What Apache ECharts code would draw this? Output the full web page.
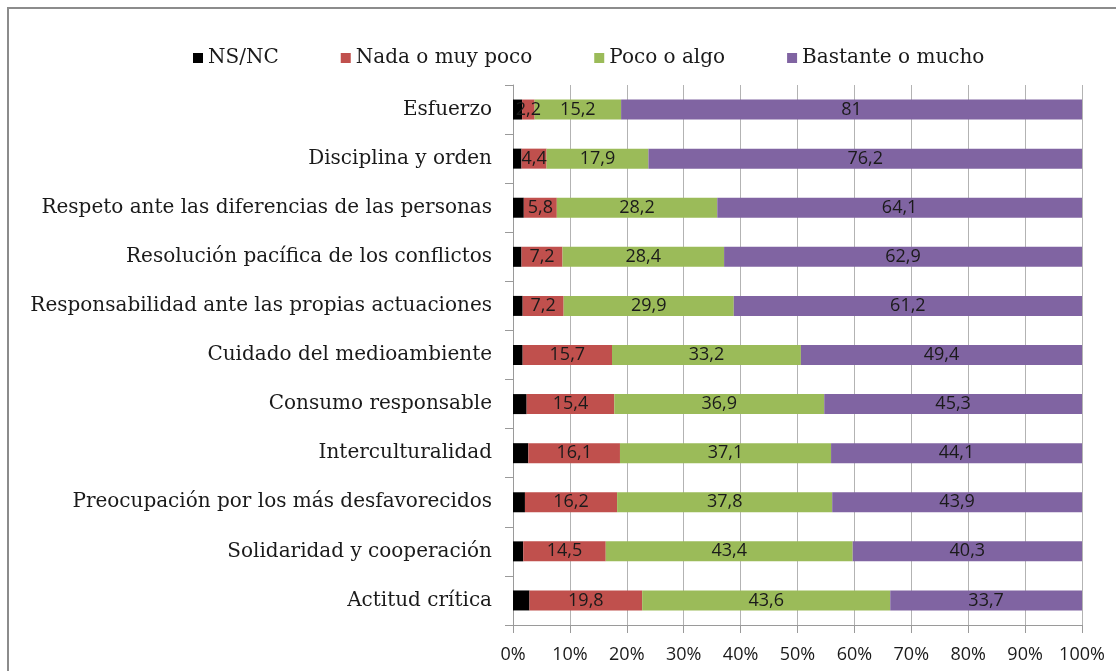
<!DOCTYPE html>
<html>
<head>
<meta charset="utf-8">
<script src="https://cdn.jsdelivr.net/npm/echarts@6/dist/echarts.min.js"></script>
<style>
  html, body { margin: 0; padding: 0; background: #fff; }
  #chart { width: 1116px; height: 671px; }
</style>
</head>
<body>
<div id="chart"></div>
<script>
var categories = [
  'Esfuerzo',
  'Disciplina y orden',
  'Respeto ante las diferencias de las personas',
  'Resolución pacífica de los conflictos',
  'Responsabilidad ante las propias actuaciones',
  'Cuidado del medioambiente',
  'Consumo responsable',
  'Interculturalidad',
  'Preocupación por los más desfavorecidos',
  'Solidaridad y cooperación',
  'Actitud crítica'
]
var nsnc = [1.6, 1.5, 1.9, 1.5, 1.7, 1.7, 2.4, 2.7, 2.1, 1.8, 2.9]
var nada = [2.2, 4.4, 5.8, 7.2, 7.2, 15.7, 15.4, 16.1, 16.2, 14.5, 19.8]
var poco = [15.2, 17.9, 28.2, 28.4, 29.9, 33.2, 36.9, 37.1, 37.8, 43.4, 43.6]
var bastante = [81, 76.2, 64.1, 62.9, 61.2, 49.4, 45.3, 44.1, 43.9, 40.3, 33.7]
var tickLabels = ['0%', '10%', '20%', '30%', '40%', '50%', '60%', '70%', '80%', '90%', '100%']

var serif = 'DejaVu Serif'
var sans = 'Open Sans'

function toPct(arr) {
  // normalise each row to 100 like the 100% stacked bar
  return arr.map(function (v, i) {
    var total = nsnc[i] + nada[i] + poco[i] + bastante[i]
    return { value: v / total * 100, raw: v }
  })
}

function makeSeries(name, arr, color, showLabel) {
  return {
    name: name,
    type: 'bar',
    stack: 'total',
    barWidth: 20,
    itemStyle: { color: color },
    label: {
      show: showLabel,
      position: 'inside',
      color: '#1a1a1a',
      fontFamily: sans,
      fontSize: 18,
      formatter: function (p) {
        return String(p.data.raw).replace('.', ',')
      },
    },
    emphasis: { disabled: true },
    data: toPct(arr),
  }
}

var chart = echarts.init(document.getElementById('chart'))
chart.setOption({
  animation: false,
  graphic: [
    {
      type: 'rect',
      shape: { x: 8, y: 8, width: 1300, height: 900 },
      style: { fill: 'none', stroke: '#8c8c8c', lineWidth: 2 },
      silent: true,
    },
  ],
  legend: {
    left: 188,
    top: 43,
    icon: 'rect',
    itemWidth: 10,
    itemHeight: 10,
    itemGap: 62,
    textStyle: { fontFamily: serif, fontSize: 20, color: '#1a1a1a' },
    data: ['NS/NC', 'Nada o muy poco', 'Poco o algo', 'Bastante o mucho'],
  },
  grid: {
    left: 513,
    right: 34,
    top: 85,
    bottom: 46,
  },
  xAxis: {
    type: 'value',
    min: 0,
    max: 100,
    interval: 10,
    axisLine: { show: true, lineStyle: { color: '#9a9a9a' } },
    axisTick: { show: true, length: 8, lineStyle: { color: '#9a9a9a' } },
    splitLine: { show: true, lineStyle: { color: '#b3b3b3' } },
    axisLabel: {
      margin: 21,
      color: '#1a1a1a',
      fontFamily: sans,
      fontSize: 18,
      formatter: function (v) {
        return tickLabels[Math.round(v / 10)]
      },
    },
  },
  yAxis: {
    type: 'category',
    inverse: true,
    data: categories,
    axisLine: { show: true, lineStyle: { color: '#9a9a9a' } },
    axisTick: { show: true, length: 8, lineStyle: { color: '#9a9a9a' } },
    axisLabel: {
      margin: 21,
      color: '#1a1a1a',
      fontFamily: serif,
      fontSize: 20,
    },
  },
  series: [
    makeSeries('NS/NC', nsnc, '#000000', false),
    makeSeries('Nada o muy poco', nada, '#c0504d', true),
    makeSeries('Poco o algo', poco, '#9bbb59', true),
    makeSeries('Bastante o mucho', bastante, '#8064a2', true),
  ],
})
</script>
</body>
</html>
